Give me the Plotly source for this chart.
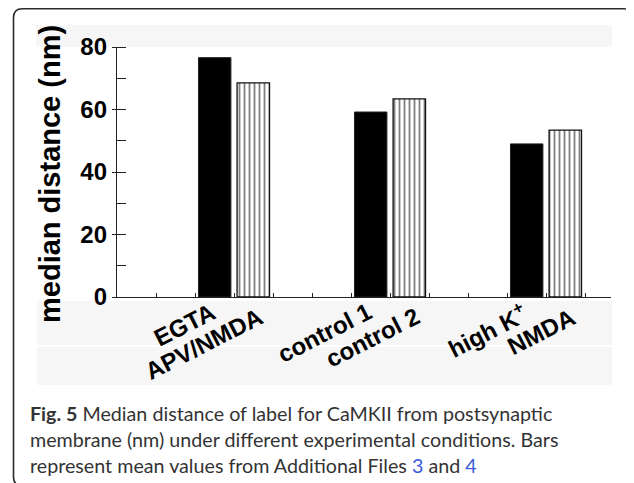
import plotly.graph_objects as go

# ---- data ----
groups = ["EGTA / APV/NMDA", "control 1 / control 2", "high K+ / NMDA"]
labels_solid = ["EGTA", "control 1", "high K<sup>+</sup>"]
labels_striped = ["APV/NMDA", "control 2", "NMDA"]
values_solid = [76.6, 59.2, 49.0]
values_striped = [68.5, 63.4, 53.4]
y_ticks = [0, 20, 40, 60, 80]
y_title = "median distance (nm)"
caption_lines = [
    "<b>Fig. 5</b> Median distance of label for CaMKII from postsynaptic",
    "membrane (nm) under different experimental conditions. Bars",
    "represent mean values from Additional Files "
    "<span style='color:#3a5bd9'>3</span> and <span style='color:#3a5bd9'>4</span>",
]

# ---- layout geometry (page pixels; the page body has an 8px margin) ----
OFF = 8
PAGE_W, PAGE_H = 634, 483
W, H = PAGE_W - OFF, PAGE_H - OFF
AX_L, AX_R, AX_T, AX_B = 117, 611, 47, 297      # plot area in page pixels
ML, MR, MT, MB = AX_L - OFF, PAGE_W - AX_R, AX_T - OFF, PAGE_H - AX_B
PW, PH = AX_R - AX_L, AX_B - AX_T

def px(x):
    return (x - AX_L) / PW

def py(y):
    return (AX_B - y) / PH

group_step = 4
group_start = 3
xpos = [group_start + group_step * i for i in range(len(groups))]
bargap = 0.505
bargroupgap = 0.16
half_slot = group_step * (1 - bargap) / 4

fig = go.Figure()
fig.add_trace(go.Bar(
    x=xpos, y=values_solid, name="solid",
    marker=dict(color="black", line=dict(color="#222", width=1)),
))
fig.add_trace(go.Bar(
    x=xpos, y=values_striped, name="striped",
    marker=dict(color="white", line=dict(color="#111", width=1.3),
                pattern=dict(shape="|", size=5, solidity=0.36,
                             fgcolor="black", bgcolor="white")),
))

bold = dict(family="Liberation Sans, Arial, sans-serif", color="black", weight="bold")

annotations = []
label_style = ((labels_solid, -half_slot, 8, 2), (labels_striped, half_slot, 17, -3))
for i, xc in enumerate(xpos):
    for labs, off, xs, ys in label_style:
        annotations.append(dict(
            x=xc + off, y=0, xref="x", yref="y", text=labs[i], showarrow=False,
            textangle=-27, xanchor="right", yanchor="top", xshift=xs, yshift=ys,
            font=dict(size=24, **bold),
        ))

annotations.append(dict(
    x=px(49.5), y=py(174.5), xref="paper", yref="paper", text=y_title, showarrow=False,
    textangle=-90, xanchor="center", yanchor="middle",
    font=dict(size=29, **bold),
))

cap_y = [413, 439.5, 465]
for t, yy in zip(caption_lines, cap_y):
    annotations.append(dict(
        x=px(28), y=py(yy), xref="paper", yref="paper", text=t, showarrow=False,
        xanchor="left", yanchor="middle", align="left",
        font=dict(family="Lato, sans-serif", size=19.7, color="#333"),
    ))

# frame and faint bands (page pixels)
x0, x1, y0, y1, r = 13.5, 632.8, 8.8, 486, 9
frame = (f"M {px(x0 + r)},{py(y0)} L {px(x1 - r)},{py(y0)} "
         f"Q {px(x1)},{py(y0)} {px(x1)},{py(y0 + r)} "
         f"L {px(x1)},{py(y1 - r)} Q {px(x1)},{py(y1)} {px(x1 - r)},{py(y1)} "
         f"L {px(x0 + r)},{py(y1)} Q {px(x0)},{py(y1)} {px(x0)},{py(y1 - r)} "
         f"L {px(x0)},{py(y0 + r)} Q {px(x0)},{py(y0)} {px(x0 + r)},{py(y0)} Z")
shapes = [
    dict(type="rect", xref="paper", yref="paper", x0=px(36), x1=px(612), y0=py(47), y1=py(25),
         fillcolor="#f6f6f6", line=dict(width=0), layer="below"),
    dict(type="rect", xref="paper", yref="paper", x0=px(37), x1=px(612), y0=py(345), y1=py(301),
         fillcolor="#f6f6f6", line=dict(width=0), layer="below"),
    dict(type="rect", xref="paper", yref="paper", x0=px(37), x1=px(612), y0=py(385), y1=py(347),
         fillcolor="#f6f6f6", line=dict(width=0), layer="below"),
    dict(type="path", xref="paper", yref="paper", path=frame,
         line=dict(color="#2a2a2a", width=1.6)),
]

fig.update_layout(
    width=W, height=H,
    margin=dict(l=ML, r=MR, t=MT, b=MB, pad=0),
    paper_bgcolor="white", plot_bgcolor="rgba(0,0,0,0)",
    barmode="group", bargap=bargap, bargroupgap=bargroupgap,
    showlegend=False,
    annotations=annotations, shapes=shapes,
    xaxis=dict(range=[0, PW / 39.0], showgrid=False, zeroline=False,
               showline=True, linecolor="#222", linewidth=1.3,
               tickmode="linear", tick0=0, dtick=1, ticks="inside", ticklen=4,
               tickcolor="#222", tickwidth=1.2, showticklabels=False),
    yaxis=dict(range=[0, 80], showgrid=False, zeroline=False,
               showline=True, linecolor="#222", linewidth=1.3,
               tickmode="array", tickvals=y_ticks, ticks="outside", ticklen=4,
               tickcolor="#222", tickwidth=1.2,
               tickfont=dict(size=24, **bold),
               minor=dict(ticks="inside", ticklen=9, dtick=10, tick0=0,
                          tickcolor="#222", tickwidth=1.2, showgrid=False)),
)

fig.write_html("out.html")
